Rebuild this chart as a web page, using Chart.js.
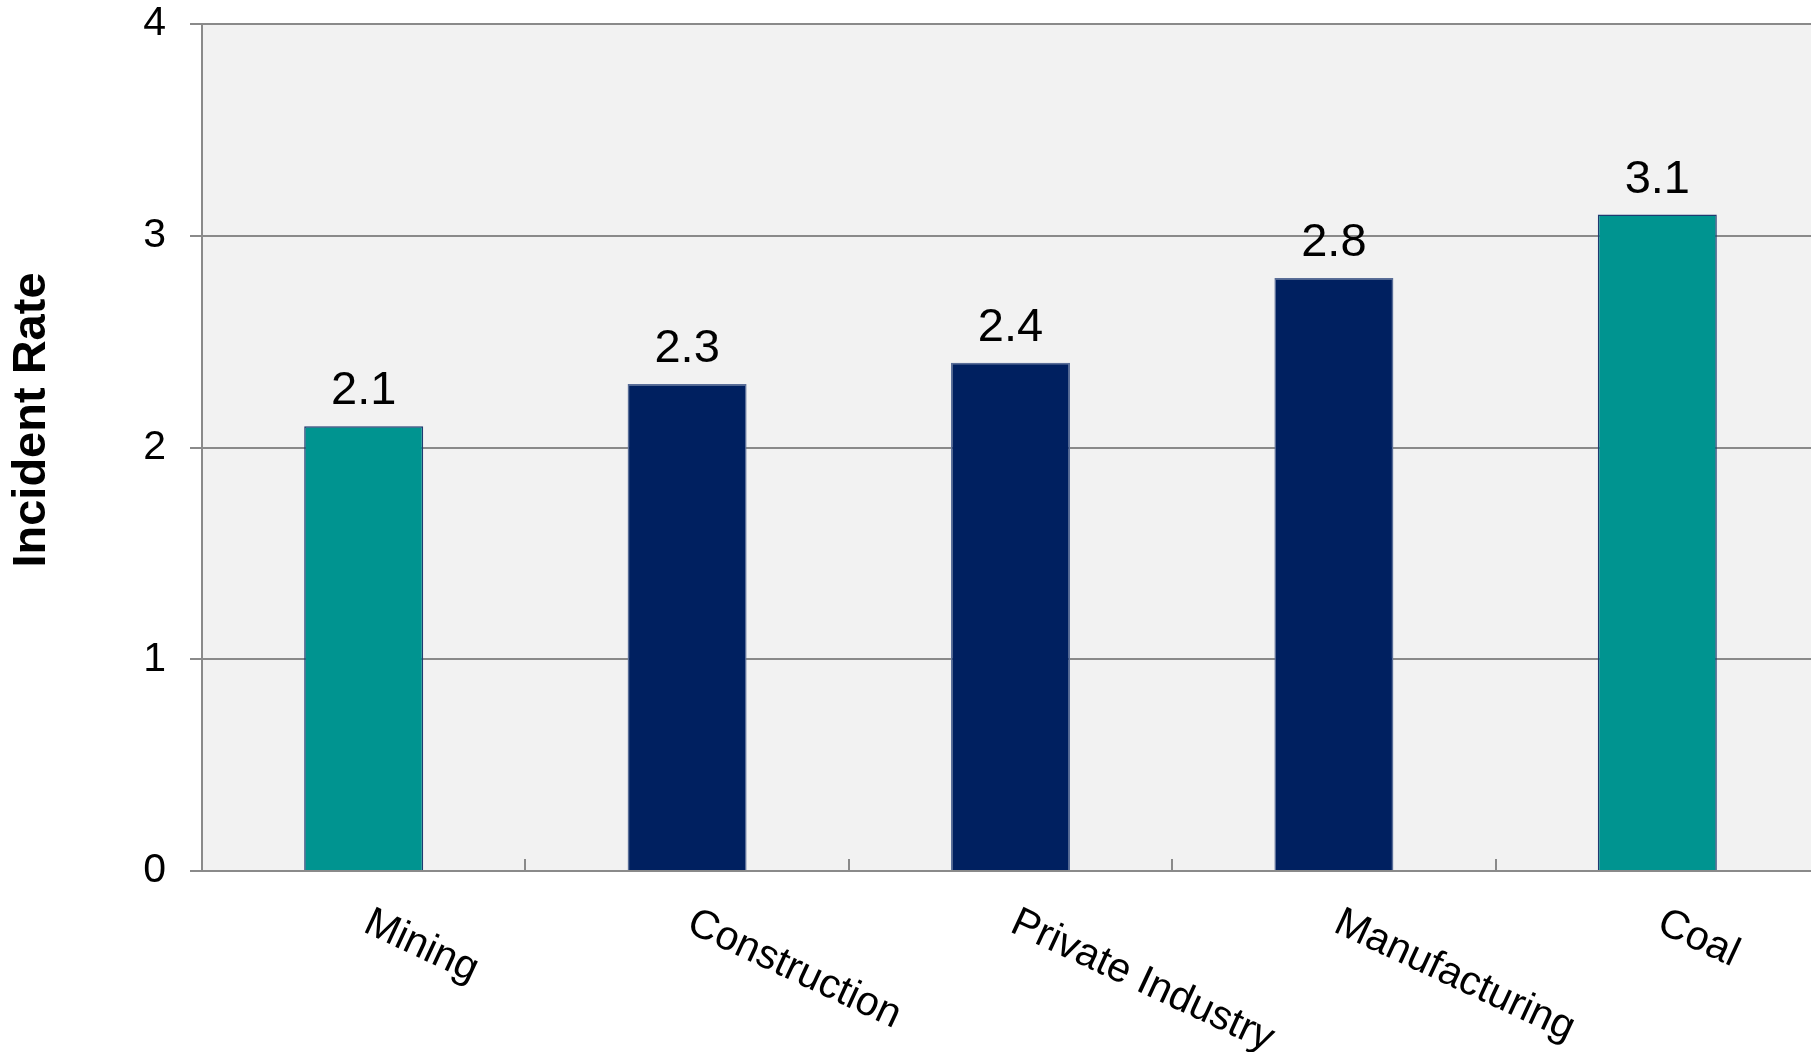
<!DOCTYPE html>
<html>
<head>
<meta charset="utf-8">
<script src="https://cdn.jsdelivr.net/npm/chart.js@4/dist/chart.umd.min.js"></script>
<style>
  html, body { margin: 0; padding: 0; background: #ffffff; overflow: hidden; }
  #wrap { width: 1819px; height: 1052px; position: relative; }
</style>
</head>
<body>
<div id="wrap"><canvas id="c"></canvas></div>
<script>
const categories = ["Mining", "Construction", "Private Industry", "Manufacturing", "Coal"];
const rates = [2.1, 2.3, 2.4, 2.8, 3.1];
const barColors = ["#009490", "#002060", "#002060", "#002060", "#009490"];
const barBorders = ["#1f3a70", "#5a6e98", "#5a6e98", "#5a6e98", "#1f3a70"];
const yTicks = [0, 1, 2, 3, 4];
const yTitle = "Incident Rate";

const FONT = "'Liberation Sans', Arial, sans-serif";

const plotBg = {
  id: 'plotBg',
  beforeDraw(chart) {
    const { ctx, chartArea: a } = chart;
    ctx.save();
    ctx.fillStyle = '#f2f2f2';
    ctx.fillRect(a.left, a.top, a.right - a.left, a.bottom - a.top);
    ctx.restore();
  }
};

const extras = {
  id: 'extras',
  afterDraw(chart) {
    const { ctx, chartArea: a } = chart;
    const xs = chart.scales.x;
    ctx.save();
    // x tick marks at category boundaries (pointing up into plot)
    ctx.strokeStyle = '#8a8a8a';
    ctx.lineWidth = 2;
    for (let i = 1; i < categories.length; i++) {
      const bx = (xs.getPixelForValue(i - 1) + xs.getPixelForValue(i)) / 2;
      ctx.beginPath();
      ctx.moveTo(Math.round(bx), a.bottom - 12);
      ctx.lineTo(Math.round(bx), a.bottom);
      ctx.stroke();
    }
    // rotated category labels
    ctx.fillStyle = '#000000';
    ctx.font = `41px ${FONT}`;
    ctx.textAlign = 'left';
    ctx.textBaseline = 'alphabetic';
    const ang = 25 * Math.PI / 180;
    categories.forEach((lab, i) => {
      const cx = xs.getPixelForValue(i);
      ctx.save();
      ctx.translate(cx - 2, a.bottom + 60);
      ctx.rotate(ang);
      ctx.fillText(lab, 0, 0);
      ctx.restore();
    });
    // y title
    ctx.font = `bold 47px ${FONT}`;
    ctx.textAlign = 'center';
    ctx.save();
    ctx.translate(45, 420);
    ctx.rotate(-Math.PI / 2);
    ctx.fillText(yTitle, 0, 0);
    ctx.restore();
    // data labels
    ctx.font = `47px ${FONT}`;
    ctx.textAlign = 'center';
    const meta = chart.getDatasetMeta(0);
    meta.data.forEach((bar, i) => {
      ctx.fillText(String(rates[i].toFixed(1)), bar.x, bar.y - 22);
    });
    ctx.restore();
  }
};

new Chart(document.getElementById('c'), {
  type: 'bar',
  data: {
    labels: categories,
    datasets: [{
      data: rates,
      backgroundColor: barColors,
      borderColor: barBorders,
      borderWidth: 1.5,
      categoryPercentage: 1.0,
      barPercentage: 0.368
    }]
  },
  options: {
    responsive: true,
    maintainAspectRatio: false,
    animation: false,
    events: [],
    layout: { padding: { top: 0, right: 0, bottom: 0, left: 0 } },
    plugins: { legend: { display: false }, tooltip: { enabled: false }, title: { display: false } },
    scales: {
      x: {
        offset: true,
        grid: { display: false },
        border: { display: true, color: '#8a8a8a', width: 2 },
        ticks: { display: false },
        afterFit(scale) { scale.height = 181; }
      },
      y: {
        min: 0,
        max: 4,
        afterBuildTicks(scale) { scale.ticks = yTicks.map(v => ({ value: v })); },
        grid: { color: '#8a8a8a', lineWidth: 2, tickLength: 12, drawTicks: true },
        border: { display: true, color: '#8a8a8a', width: 2 },
        ticks: {
          color: '#000000',
          font: { family: FONT, size: 41, lineHeight: 1.122 },
          padding: 24
        },
        afterFit(scale) {
          scale.width = 202;
          scale.paddingTop = 24;
          scale.paddingBottom = 0;
        }
      }
    }
  },
  plugins: [plotBg, extras]
});
</script>
</body>
</html>
